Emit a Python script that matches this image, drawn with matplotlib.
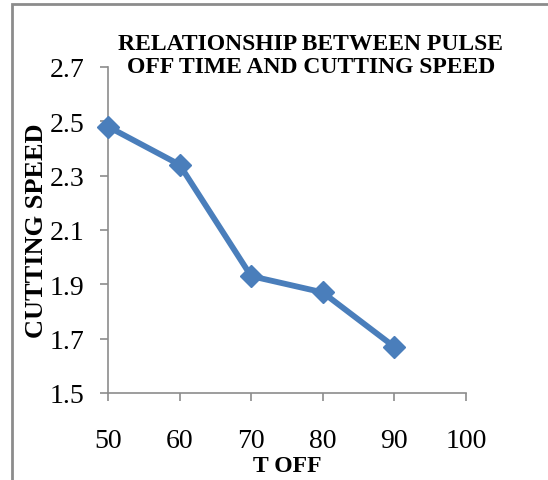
import matplotlib.pyplot as plt
from matplotlib.patches import Rectangle

# data
t_off = [50, 60, 70, 80, 90]
cutting_speed = [2.48, 2.34, 1.93, 1.87, 1.67]
x_ticks = [50, 60, 70, 80, 90, 100]
y_ticks = [1.5, 1.7, 1.9, 2.1, 2.3, 2.5, 2.7]

plt.rcParams['font.family'] = ['Liberation Serif', 'DejaVu Serif']

fig = plt.figure(figsize=(5.48, 4.81), dpi=100)
ax = fig.add_axes([0.197, 0.181, 0.653, 0.678])

# outer chart frame (only left/top edges show in the crop)
fig.patches.append(Rectangle((12 / 548, -0.1), 1.2, 1 - 5 / 481 + 0.1,
                             transform=fig.transFigure, fill=False,
                             edgecolor='#8c8c8c', linewidth=2))

ax.plot(t_off, cutting_speed, color='#4a7ebb', linewidth=4.2,
        marker='D', markersize=11, markerfacecolor='#4a7ebb',
        markeredgecolor='#4a7ebb', clip_on=False, zorder=3)

ax.set_xlim(50, 100)
ax.set_ylim(1.5, 2.7)
ax.set_xticks(x_ticks)
ax.set_yticks(y_ticks)
ax.set_yticklabels([f'{v:.1f}' for v in y_ticks])

for side in ['top', 'right']:
    ax.spines[side].set_visible(False)
for side in ['left', 'bottom']:
    ax.spines[side].set_color('#8c8c8c')
    ax.spines[side].set_linewidth(1.2)

ax.tick_params(axis='both', direction='out', length=6, width=1.2,
               color='#8c8c8c', labelsize=20)
ax.tick_params(axis='y', pad=11)
ax.tick_params(axis='x', pad=19)

ax.set_xlabel('T OFF', fontsize=17, fontweight='bold', labelpad=2)
ax.set_ylabel('CUTTING SPEED', fontsize=19, fontweight='bold', labelpad=1)

fig.text(0.567, 0.883, 'RELATIONSHIP BETWEEN PULSE\nOFF TIME AND CUTTING SPEED',
         ha='center', va='center', fontsize=17, fontweight='bold',
         linespacing=1.12)

plt.savefig('out.png', dpi=100)
